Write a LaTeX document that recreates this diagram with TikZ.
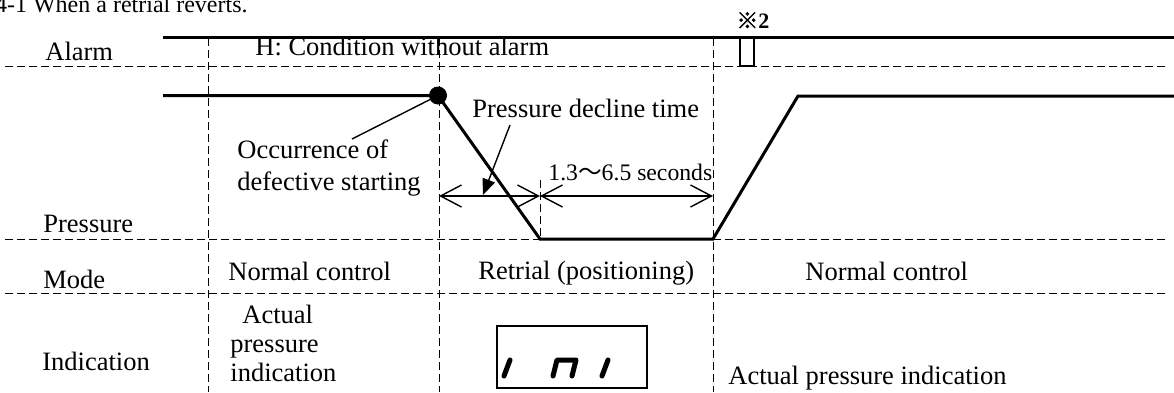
\documentclass[tikz,border=0pt]{standalone}
\usepackage{fontspec}
\setmainfont{Liberation Serif}
\newfontfamily\cjk[AutoFakeBold=2]{Noto Sans CJK JP}
\usetikzlibrary{arrows.meta}

\begin{document}
\begin{tikzpicture}[x=0.5pt,y=-0.5pt,
      lbl/.style={inner sep=0pt,anchor=base west,font=\fontsize{13.25}{13.75}\selectfont},
      small/.style={lbl,font=\fontsize{11.85}{13}\selectfont},
      grid/.style={line width=0.5pt,dash pattern=on 4pt off 2pt},
      sig/.style={line width=1.5pt},
      lead/.style={line width=0.7pt},
      dim/.style={{Straight Barb[length=10.5pt,width=11pt]}-{Straight Barb[length=10.5pt,width=11pt]},line width=0.7pt},
      seg/.style={line width=2.5pt,line cap=round,line join=round}]
    \useasboundingbox (0,0) rectangle (1174,392);
    % title and row labels
    \node[lbl,anchor=base east,font=\fontsize{12}{14}\selectfont] (title) at (248,12.5) {4-1 When a retrial reverts.};
    \node[lbl] (alarm) at (45,60)  {Alarm};
    \node[lbl] (press) at (43,232) {Pressure};
    \node[lbl] (mode)  at (43,288) {Mode};
    \node[lbl] (ind)   at (42,370) {Indication};
    % grid
    \foreach \y in {66,239,293}
      \draw[grid] (5,\y) -- (1168,\y);
    \foreach \x in {208,439,713}
      \draw[grid] (\x,38) -- (\x,392);
    \draw[grid] (540,180) -- (540,239);
    % alarm signal
    \draw[sig] (163,37.5) -- (1174,37.5);
    \draw[line width=1pt] (740,37.5) rectangle (754,66);
    \node[lbl,font=\fontsize{11}{12}\selectfont\bfseries] (note) at (736,28.5) {{\cjk ※}2};
    \node[lbl] (hcond) at (255,55) {H: Condition without alarm};
    % pressure signal
    \coordinate (dot) at (438,95.5);
    \coordinate (occtip) at (352,139);
    \draw[sig] (163,95.5) -- (dot) -- (540,239) -- (713,239) -- (798,96) -- (1174,96);
    \draw[lead] (occtip) -- (dot);
    \fill (dot) circle[radius=4.5pt];
    \node[lbl,align=left,font=\fontsize{13.25}{16}\selectfont] (occ) at (237,190)
      {Occurrence of\\defective starting};
    \node[lbl] (decl) at (472,117) {Pressure decline time};
    \coordinate (decltail) at (510,125);
    \coordinate (declhead) at (483,195);
    \draw[lead,-{Triangle[length=8pt,width=6.5pt]}] (decltail) -- (declhead);
    \coordinate (d0) at (439,196);
    \coordinate (d1) at (540,196);
    \coordinate (d2) at (713,196);
    \draw[dim] (d0) -- (d1);
    \draw[dim] (d1) -- (d2);
    \node[small] (secs) at (548,180) {1.3{\cjk ～}6.5 seconds};
    % mode row
    \node[lbl] (norm1) at (228,280) {Normal control};
    \node[lbl] (retr)  at (478,279) {Retrial (positioning)};
    \node[lbl] (norm2) at (805,280) {Normal control};
    % indication row
    \node[lbl,align=left,font=\fontsize{13.25}{14.5}\selectfont] (act1) at (230,381) {\hspace{6pt}Actual\\pressure\\indication};
    \draw[line width=1pt] (497,326) rectangle (647,388);
    \draw[seg] (504,376) -- (510,360);
    \draw[seg] (553,376) -- (557,360) -- (576,360) -- (572,376);
    \draw[seg] (602,376) -- (608,360);
    \node[lbl] (act2) at (728,384) {Actual pressure indication};
  \end{tikzpicture}
\end{document}
